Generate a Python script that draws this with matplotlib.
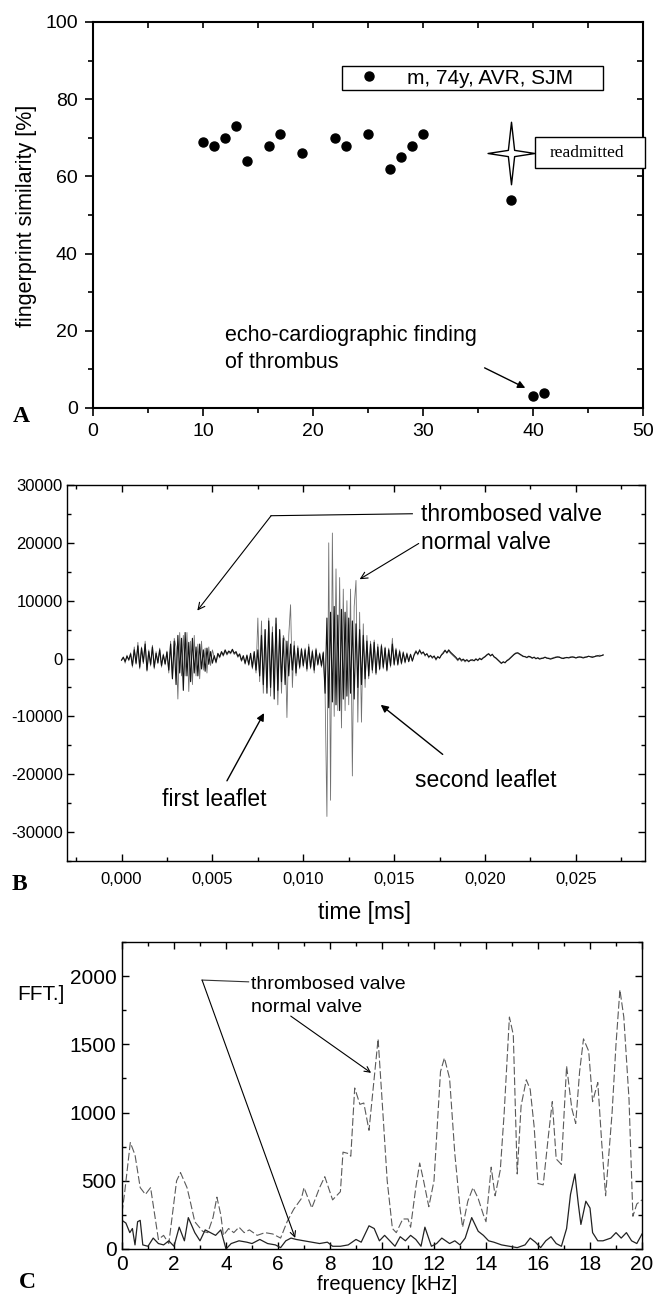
import numpy as np
import matplotlib
matplotlib.use('Agg')
import matplotlib.pyplot as plt
from matplotlib.path import Path
from matplotlib.ticker import MultipleLocator, FuncFormatter
from matplotlib.patches import Rectangle

plt.rcParams['font.family'] = ['Liberation Sans', 'DejaVu Sans']
plt.rcParams['axes.unicode_minus'] = False

# ---------------- Panel A data ----------------
visit = [10, 11, 12, 13, 14, 16, 17, 19, 22, 23, 25, 27, 28, 29, 30, 38, 40, 41]
similarity = [69, 68, 70, 73, 64, 68, 71, 66, 70, 68, 71, 62, 65, 68, 71, 54, 3, 4]
readmit_x = [38]
readmit_y = [66]
legend_label = 'm, 74y, AVR, SJM'

# ---------------- Panel B data (sampled waveform) ----------------
sample_step_ms = 0.0001
thrombosed_wave = [
    -300, 200, -500, 400, -200, 800, -1200, 1500, -800, 2200, -1500, 1800, -600,
    2500, -2000, 1200, -1000, 2000, -1500, 900, -700, 1500, -1200, 600, -900, 1100,
    -2000, 2500, -3500, 3000, -4500, 4000, -2500, 3500, -5500, 4500, -3000, 2800,
    -4000, 3500, -2500, 2000, -3000, 2500, -1800, 1500, -2200, 1800, -1000, 1200, -800,
    500, -600, 900, 300, 1200, 600, 1500, 800, 1300, 1000, 1600, 900, 1200, 400, 800,
    -300, 500, -800, 600, -1000, 900, -1500, 1200, -2000, 1500,
    -3000, 4000, -4500, 5000, -6000, 6500, -5000, 4500, -7000, 7000, -5500, 5000,
    -4000, 3500, -4500, 3000, -3000, 2500, -2000, 2200, -2500, 1800, -1500, 1600, -1200,
    1500, -1800, 2000, -1500, 1200, -2000, 1500, -1000, 800, -1200, 1000,
    -6000, 7000, -8500, 8000, -7500, 9000, -8000, 7500, -9000, 8500, -7000, 8000,
    -6500, 7000, -6000, 6500, -7000, 6000, -5000, 5000, -4500, 4000, -3500, 3000,
    -3000, 2500, -2000, 2800, -2500, 2000, -1800, 2200, -1500, 1800, -2000, 1500, -1200,
    2500, -1000, 1500, -1000, 1200, -800, 1000, -600, 800, -500, 700, -400,
    600, 1200, 800, 1400, 900, 1100, 600, 800, 300, 500,
    200, 400, -100, 300, 100, 600, 900, 1400, 1000, 1500,
    1100, 800, 500, 200, -200, 100, -300, -100, -400, -200,
    -500, -300, -200, -400, -100, -300, 0, -200, 100, 300,
    600, 800, 500, 700, 300, 100, -200, -500, -800, -600,
    -700, -400, -200, 100, 400, 700, 900, 1000, 800, 600,
    400, 300, 200, 400, 300, 100, 200, 0, 100, -100,
    0, 100, 200, 100, 0, -100, 0, 100, 200, 300,
    200, 100, 0, 100, 200, 100, 200, 300, 200, 100,
    200, 300, 200, 100, 200, 300, 400, 300, 200, 300, 400, 500, 400, 500, 600,
]
normal_wave = [
    -200, 300, -800, 600, -400, 1000, -1500, 2000, -1000, 2800, -1800, 2000, -900,
    3000, -2200, 1500, -1300, 2300, -1800, 1200, -900, 1800, -1500, 800, -1100, 1300,
    -2500, 3000, -3500, 3500, 2000, -7000, 4500, -3000, 4000, -3000, 4500, -5700,
    3000, -4500, 4000, -3000, 2500, -3500, 3000, -2000, 1800, -2500, 2000, -1200, 1500,
    300, -800, 700, 100, 1000, 400, 1300, 600, 1100, 800, 1400, 700, 1000, 200, 600,
    -500, 300, -1000, 400, -1200, 700, -1800, 1000, -2500, 7000,
    -4000, 6500, -6000, 5000, -5000, 7000, -6500, 5500, -4000, 6000, -8000, 5000,
    -6000, 4000, 3000, -10200, 4000, 9300, -5000, 3000, -3000, 2200, -1800, 1800, -1500,
    1800, -2200, 2500, -1800, 1500, -2500, 1800, -1200, 1000, -1500, 1200,
    -6000, -27300, 20000, -24500, 21700, -10000, 15500, -9000, 14000, -12000, 12000,
    -9000, 10000, -8000, 12000, -20300, 9000, 13500, -11000, 8000, -11000, 6000,
    -5000, 4000,
    -3500, 3000, -2500, 3200, -2800, 2500, -2000, 2500, -1800, 2000, -2200, 1800, -1500,
    3500, -1200, 1800, -1200, 1500, -1000, 1200, -800, 1000, -600, 800, -500,
    800, 1400, 600, 1600, 700, 1200, 400, 900, 100, 600,
    0, 500, -300, 400, 0, 700, 1100, 1500, 900, 1300,
    900, 600, 300, 0, -400, 0, -500, -200, -600, -300,
    -600, -200, -400, -300, 0, -400, 100, -100, 200, 400,
    700, 900, 400, 800, 200, 0, -300, -600, -900, -500,
    -800, -300, -100, 200, 500, 800, 1000, 900, 700, 500,
    300, 400, 100, 300, 200, 0, 300, -100, 200, 0,
    100, 0, 300, 0, 100, 0, 100, 200, 300, 200,
    300, 0, 100, 200, 100, 200, 300, 200, 300, 100,
    300, 200, 300, 200, 300, 200, 400, 300, 400, 300, 500, 400, 600, 500, 700,
]
time_ticks = [0.0, 0.005, 0.010, 0.015, 0.020, 0.025]

# ---------------- Panel C data (spectra) ----------------
freq_normal = [0.0, 0.1, 0.32, 0.5, 0.7, 0.9, 1.1, 1.4, 1.6, 1.8,
               2.1, 2.25, 2.5, 2.6, 2.8, 3.1, 3.3, 3.5, 3.65, 3.8,
               3.9, 4.1, 4.3, 4.5, 4.7, 4.9, 5.2, 5.5, 5.8, 6.1,
               6.35, 6.6, 6.9, 7.0, 7.3, 7.6, 7.8, 8.1, 8.4, 8.5,
               8.7, 8.8, 8.95, 9.15, 9.3, 9.5, 9.85, 10.0, 10.2, 10.4,
               10.55, 10.8, 11.0, 11.1, 11.3, 11.45, 11.6, 11.8, 12.0, 12.25,
               12.4, 12.6, 12.8, 13.0, 13.1, 13.3, 13.5, 13.7, 13.9, 14.0,
               14.2, 14.35, 14.55, 14.7, 14.9, 15.05, 15.2, 15.35, 15.55, 15.7,
               15.85, 16.0, 16.2, 16.4, 16.55, 16.7, 16.9, 17.1, 17.3, 17.45,
               17.6, 17.75, 17.95, 18.1, 18.3, 18.45, 18.6, 18.85, 19.0, 19.15,
               19.3, 19.5, 19.65, 19.8, 20.0]
fft_normal = [264, 410, 780, 690, 450, 400, 450, 70, 100, 40,
              500, 560, 450, 370, 200, 130, 120, 230, 380, 250,
              100, 150, 120, 160, 120, 140, 100, 120, 110, 80,
              200, 290, 370, 450, 300, 450, 530, 360, 420, 710,
              700, 680, 1180, 1060, 1070, 870, 1540, 1100, 500, 150,
              120, 220, 220, 160, 450, 630, 500, 310, 500, 1300,
              1400, 1250, 700, 300, 160, 350, 450, 370, 250, 200,
              600, 390, 580, 1000, 1700, 1570, 550, 1050, 1240, 1170,
              900, 480, 470, 830, 1080, 660, 620, 1340, 1030, 920,
              1300, 1540, 1450, 1080, 1220, 780, 390, 1000, 1500, 1900,
              1700, 1100, 240, 330, 360]
freq_thromb = [0.0, 0.15, 0.3, 0.4, 0.5, 0.6, 0.7, 0.8, 1.0, 1.2,
               1.4, 1.6, 1.8, 2.0, 2.2, 2.4, 2.55, 2.8, 3.0, 3.2,
               3.4, 3.6, 3.8, 4.0, 4.2, 4.5, 4.8, 5.0, 5.3, 5.6,
               5.9, 6.1, 6.3, 6.5, 6.7, 7.0, 7.3, 7.6, 7.9, 8.1,
               8.4, 8.7, 9.0, 9.2, 9.5, 9.7, 9.9, 10.1, 10.3, 10.5,
               10.7, 10.9, 11.1, 11.3, 11.5, 11.65, 11.9, 12.1, 12.3, 12.6,
               12.8, 13.0, 13.2, 13.45, 13.7, 13.9, 14.1, 14.3, 14.6, 14.9,
               15.2, 15.5, 15.7, 15.9, 16.1, 16.3, 16.5, 16.7, 16.9, 17.1,
               17.25, 17.42, 17.55, 17.65, 17.84, 18.0, 18.1, 18.3, 18.5, 18.8,
               19.0, 19.2, 19.4, 19.6, 19.8, 20.0]
fft_thromb = [210, 190, 120, 150, 30, 200, 210, 30, 20, 80,
              40, 30, 60, 20, 160, 60, 230, 120, 60, 140,
              120, 100, 140, 0, 40, 60, 50, 40, 70, 40,
              30, 10, 60, 80, 70, 60, 50, 40, 50, 20,
              20, 30, 70, 50, 170, 150, 60, 100, 60, 20,
              90, 60, 100, 70, 20, 160, 20, 40, 80, 40,
              60, 30, 80, 230, 130, 100, 60, 50, 30, 20,
              10, 30, 80, 50, 10, 60, 90, 40, 20, 150,
              400, 550, 330, 180, 350, 300, 120, 60, 60, 80,
              120, 80, 120, 60, 40, 110]

W, H = 657, 1306
fig = plt.figure(figsize=(W / 100, H / 100), dpi=100)


def rect(x0, y_top, x1, y_bot):
    return [x0 / W, 1 - y_bot / H, (x1 - x0) / W, (y_bot - y_top) / H]


def mirror_ticks(ax, xmaj, xmin, ymaj, ymin, length_major, length_minor, width):
    sx = ax.secondary_xaxis('top')
    sx.xaxis.set_major_locator(MultipleLocator(xmaj))
    sx.xaxis.set_minor_locator(MultipleLocator(xmin))
    sx.tick_params(which='both', direction='in', labeltop=False, width=width)
    sx.tick_params(which='major', length=length_major)
    sx.tick_params(which='minor', length=length_minor)
    sy = ax.secondary_yaxis('right')
    sy.yaxis.set_major_locator(MultipleLocator(ymaj))
    sy.yaxis.set_minor_locator(MultipleLocator(ymin))
    sy.tick_params(which='both', direction='in', labelright=False, width=width)
    sy.tick_params(which='major', length=length_major)
    sy.tick_params(which='minor', length=length_minor)
    for s in list(sx.spines.values()) + list(sy.spines.values()):
        s.set_visible(False)


# ======================= Panel A =======================
axA = fig.add_axes(rect(93, 22, 643, 408))
axA.plot(visit, similarity, ls='none', marker='o', ms=6.5, color='black',
         label=legend_label)
star = Path([(0, 1), (0.1, 0.1), (0.75, 0), (0.1, -0.1), (0, -1),
             (-0.1, -0.1), (-0.75, 0), (-0.1, 0.1), (0, 1)],
            [Path.MOVETO] + [Path.LINETO] * 7 + [Path.CLOSEPOLY])
axA.plot(readmit_x, readmit_y, ls='none', marker=star, ms=45, mfc='white',
         mec='black', mew=1.0)
axA.set_xlim(0, 50)
axA.set_ylim(0, 100)
axA.xaxis.set_major_locator(MultipleLocator(10))
axA.xaxis.set_minor_locator(MultipleLocator(5))
axA.yaxis.set_major_locator(MultipleLocator(20))
axA.yaxis.set_minor_locator(MultipleLocator(10))
axA.tick_params(which='both', direction='out', labelsize=14, width=1.2, pad=5)
axA.tick_params(which='major', length=6)
axA.tick_params(which='minor', length=3.5)
for s in axA.spines.values():
    s.set_linewidth(1.5)
mirror_ticks(axA, 5, 5, 10, 10, 4, 4, 1.2)

leg = axA.legend(loc='upper left', bbox_to_anchor=(0.452, 0.830, 0.476, 0.056),
                 mode='expand', borderaxespad=0, fontsize=15, frameon=True,
                 fancybox=False, edgecolor='black', framealpha=1,
                 borderpad=0.12, handlelength=2.4, handletextpad=0.6)
leg.get_frame().set_linewidth(1.0)

axA.add_patch(Rectangle((0.804, 0.622), 0.200, 0.080, transform=axA.transAxes,
                        facecolor='white', edgecolor='black', lw=1.0,
                        clip_on=False, zorder=3))
axA.text(0.899, 0.660, 'readmitted', transform=axA.transAxes, ha='center',
         va='center', fontsize=12.5, family='Liberation Serif', zorder=4)

axA.text(12.0, 21.5, 'echo-cardiographic finding\nof thrombus', ha='left',
         va='top', fontsize=15.5, linespacing=1.35)
axA.annotate('', xy=(39.3, 5.2), xytext=(35.6, 10.4),
             arrowprops=dict(arrowstyle='-|>', color='black', lw=1.0,
                             mutation_scale=11, shrinkA=0, shrinkB=0))

fig.text(27 / W, 1 - 216 / H, 'fingerprint similarity [%]', rotation=90,
         ha='center', va='center', fontsize=15.5)
fig.text(21 / W, 1 - 417 / H, 'A', ha='center', va='center', fontsize=17,
         family='Liberation Serif', fontweight='bold')

# ======================= Panel B =======================
axB = fig.add_axes(rect(67, 485, 645, 861))
t_thromb = np.arange(len(thrombosed_wave)) * sample_step_ms
t_normal = np.arange(len(normal_wave)) * sample_step_ms
axB.plot(t_normal, normal_wave, color='#707070', lw=0.6)
axB.plot(t_thromb, thrombosed_wave, color='#111111', lw=0.8)
axB.set_xlim(-0.003, 0.0288)
axB.set_ylim(-35000, 30000)
axB.set_xticks(time_ticks)
axB.xaxis.set_minor_locator(MultipleLocator(0.0025))
axB.yaxis.set_major_locator(MultipleLocator(10000))
axB.yaxis.set_minor_locator(MultipleLocator(5000))
axB.xaxis.set_major_formatter(FuncFormatter(lambda v, p: f'{v:.3f}'.replace('.', ',')))
axB.tick_params(which='both', direction='in', top=True, right=True,
                labelsize=12, width=1.0)
axB.tick_params(axis='y', pad=3)
axB.tick_params(axis='x', pad=8)
axB.tick_params(which='major', length=5)
axB.tick_params(which='minor', length=3)
for s in axB.spines.values():
    s.set_linewidth(1.0)

axB.text(0.01647, 24860, 'thrombosed valve', ha='left', va='center', fontsize=16.5)
axB.text(0.01647, 20000, 'normal valve', ha='left', va='center', fontsize=16.5)
axB.plot([0.0160, 0.00823], [25030, 24690], color='black', lw=0.8)
axB.annotate('', xy=(0.00417, 8290), xytext=(0.00823, 24690),
             arrowprops=dict(arrowstyle='->', color='black', lw=0.8,
                             mutation_scale=12, shrinkA=0, shrinkB=0))
axB.annotate('', xy=(0.0131, 13710), xytext=(0.01635, 19890),
             arrowprops=dict(arrowstyle='->', color='black', lw=0.8,
                             mutation_scale=12, shrinkA=0, shrinkB=0))
axB.text(0.00508, -24290, 'first leaflet', ha='center', va='center', fontsize=16.5)
axB.annotate('', xy=(0.00784, -9430), xytext=(0.0058, -21140),
             arrowprops=dict(arrowstyle='-|>', color='black', lw=1.0,
                             mutation_scale=11, shrinkA=0, shrinkB=0))
axB.text(0.02006, -21140, 'second leaflet', ha='center', va='center', fontsize=16.5)
axB.annotate('', xy=(0.01426, -8000), xytext=(0.01767, -16570),
             arrowprops=dict(arrowstyle='-|>', color='black', lw=1.0,
                             mutation_scale=11, shrinkA=0, shrinkB=0))

fig.text(365 / W, 1 - 912 / H, 'time [ms]', ha='center', va='center', fontsize=16.5)
fig.text(19 / W, 1 - 885 / H, 'B', ha='center', va='center', fontsize=17,
         family='Liberation Serif', fontweight='bold')

# ======================= Panel C =======================
axC = fig.add_axes(rect(122, 942, 642, 1249))
axC.plot(freq_normal, fft_normal, color='#5a5a5a', lw=0.8, ls=(0, (7, 2.5)))
axC.plot(freq_thromb, fft_thromb, color='#222222', lw=0.9)
axC.set_xlim(0, 20)
axC.set_ylim(0, 2250)
axC.xaxis.set_major_locator(MultipleLocator(2))
axC.xaxis.set_minor_locator(MultipleLocator(1))
axC.yaxis.set_major_locator(MultipleLocator(500))
axC.yaxis.set_minor_locator(MultipleLocator(250))
axC.tick_params(which='both', direction='in', top=True, right=True,
                labelsize=15, width=1.0)
axC.tick_params(axis='y', pad=4)
axC.tick_params(axis='x', pad=4)
axC.tick_params(which='major', length=5)
axC.tick_params(which='minor', length=3)
for s in axC.spines.values():
    s.set_linewidth(1.0)

axC.text(4.95, 1939, 'thrombosed valve', ha='left', va='center', fontsize=14)
axC.text(4.95, 1768, 'normal valve', ha='left', va='center', fontsize=14)
axC.plot([4.87, 3.08], [1958, 1971], color='#333333', lw=0.8)
axC.annotate('', xy=(6.66, 81), xytext=(3.08, 1971),
             arrowprops=dict(arrowstyle='->', color='black', lw=0.8,
                             mutation_scale=10, shrinkA=0, shrinkB=0))
axC.annotate('', xy=(9.58, 1291), xytext=(6.49, 1707),
             arrowprops=dict(arrowstyle='->', color='black', lw=0.8,
                             mutation_scale=10, shrinkA=0, shrinkB=0))

fig.text(17 / W, 1 - 995 / H, 'FFT.]', ha='left', va='center', fontsize=15)
fig.text(387 / W, 1 - 1285 / H, 'frequency [kHz]', ha='center', va='center',
         fontsize=14.5)
fig.text(27 / W, 1 - 1282 / H, 'C', ha='center', va='center', fontsize=17,
         family='Liberation Serif', fontweight='bold')

fig.savefig('out.png', dpi=100)
